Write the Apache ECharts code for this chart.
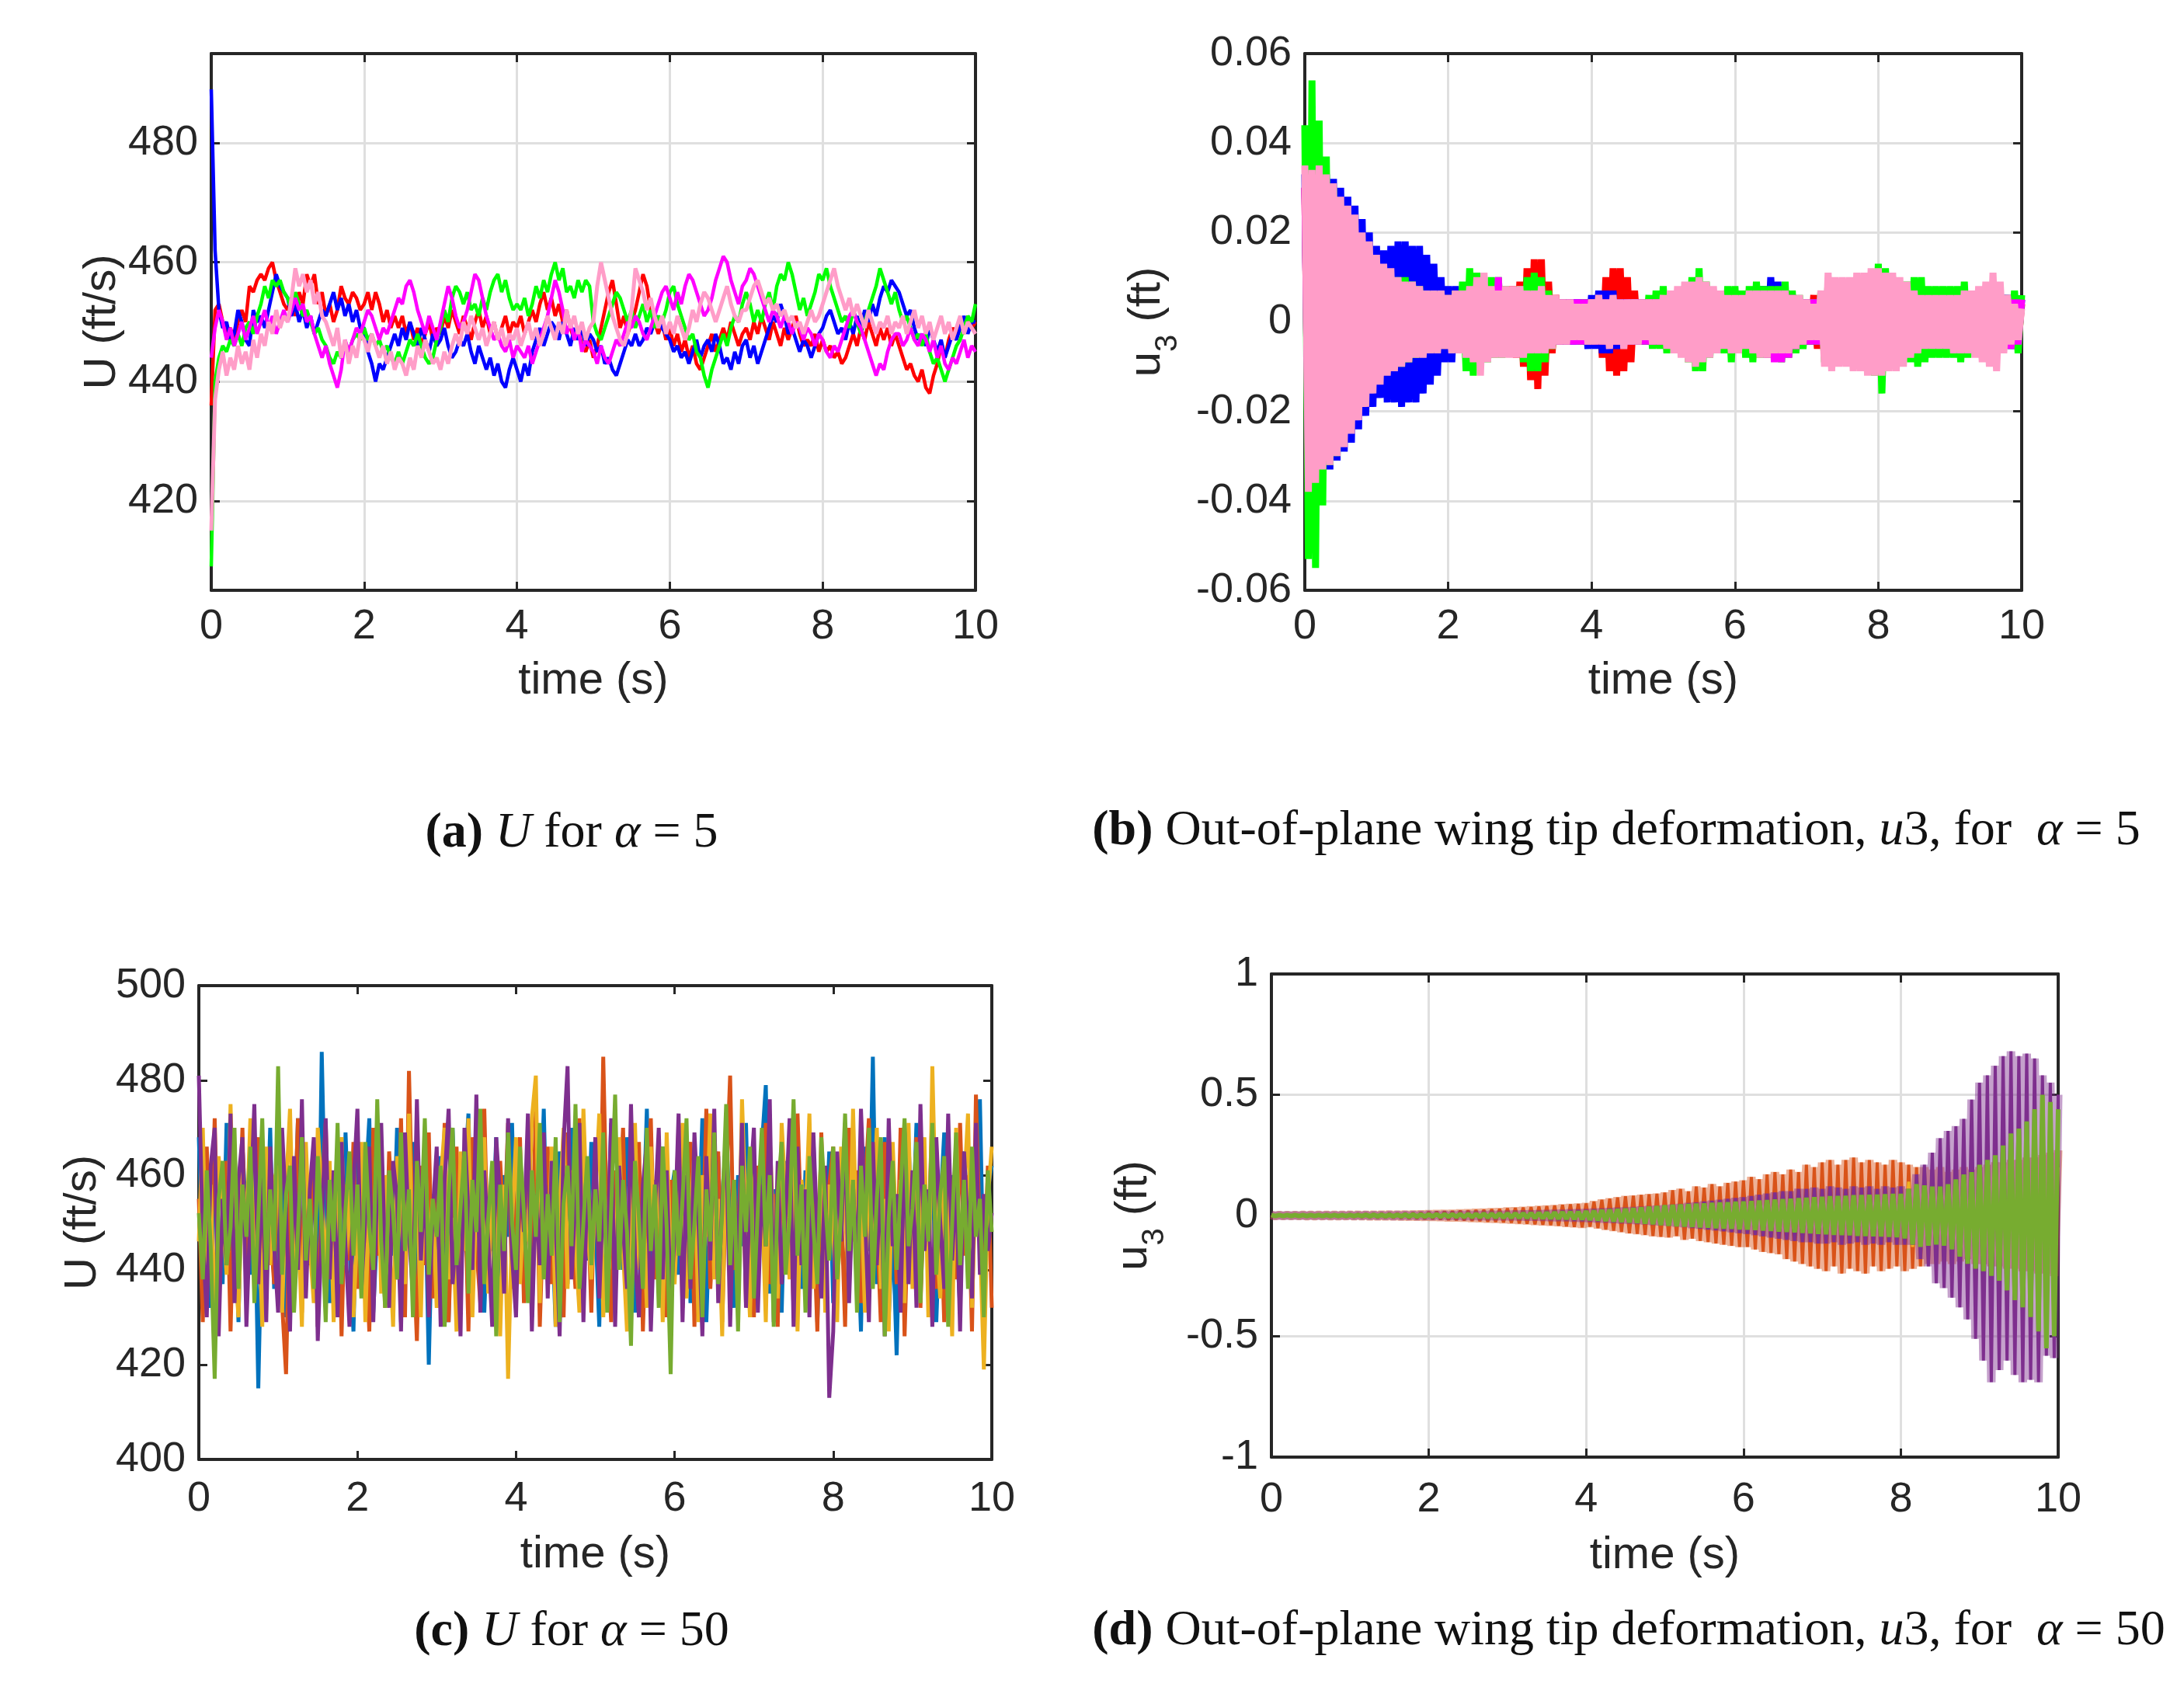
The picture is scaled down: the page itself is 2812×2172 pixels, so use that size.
<!DOCTYPE html>
<html><head><meta charset="utf-8">
<script src="https://cdn.jsdelivr.net/npm/echarts@6/dist/echarts.min.js"></script>
<style>html,body{margin:0;padding:0;background:#fff}#c{width:2812px;height:2172px}</style>
</head><body><div id="c"></div>
<script>
// sample times (s), shared by all four panels
const time = [
0,0.05,0.1,0.15,0.2,0.25,0.3,0.35,0.4,0.45,0.5,0.55,0.6,0.65,0.7,0.75,0.8,0.85,0.9,0.95,
1,1.05,1.1,1.15,1.2,1.25,1.3,1.35,1.4,1.45,1.5,1.55,1.6,1.65,1.7,1.75,1.8,1.85,1.9,1.95,
2,2.05,2.1,2.15,2.2,2.25,2.3,2.35,2.4,2.45,2.5,2.55,2.6,2.65,2.7,2.75,2.8,2.85,2.9,2.95,
3,3.05,3.1,3.15,3.2,3.25,3.3,3.35,3.4,3.45,3.5,3.55,3.6,3.65,3.7,3.75,3.8,3.85,3.9,3.95,
4,4.05,4.1,4.15,4.2,4.25,4.3,4.35,4.4,4.45,4.5,4.55,4.6,4.65,4.7,4.75,4.8,4.85,4.9,4.95,
5,5.05,5.1,5.15,5.2,5.25,5.3,5.35,5.4,5.45,5.5,5.55,5.6,5.65,5.7,5.75,5.8,5.85,5.9,5.95,
6,6.05,6.1,6.15,6.2,6.25,6.3,6.35,6.4,6.45,6.5,6.55,6.6,6.65,6.7,6.75,6.8,6.85,6.9,6.95,
7,7.05,7.1,7.15,7.2,7.25,7.3,7.35,7.4,7.45,7.5,7.55,7.6,7.65,7.7,7.75,7.8,7.85,7.9,7.95,
8,8.05,8.1,8.15,8.2,8.25,8.3,8.35,8.4,8.45,8.5,8.55,8.6,8.65,8.7,8.75,8.8,8.85,8.9,8.95,
9,9.05,9.1,9.15,9.2,9.25,9.3,9.35,9.4,9.45,9.5,9.55,9.6,9.65,9.7,9.75,9.8,9.85,9.9,9.95,
10];

// ---------- (a) U (ft/s), alpha = 5 ----------
const aRed = [
436,452,453,450,448,449,447,450,452,450,456,455,457,458,457,459,460,457,455,453,
452,454,451,455,453,458,456,458,453,455,451,453,450,452,456,454,453,455,454,452,
453,455,452,455,453,450,452,449,451,449,451,448,450,447,449,446,448,450,447,449,
448,451,449,452,450,448,451,449,447,450,452,449,451,448,450,447,449,451,448,450,
449,451,448,450,452,450,453,455,452,454,451,453,450,452,449,447,449,446,445,447,
444,446,449,452,455,457,453,449,451,448,450,452,455,458,456,452,450,448,450,447,
449,446,448,445,447,444,446,443,442,444,446,448,445,447,449,447,450,448,446,448,
449,447,450,448,451,449,447,450,448,446,449,447,449,451,448,446,447,446,448,445,
447,445,446,444,445,443,444,446,448,446,449,447,450,448,446,449,447,449,446,448,
446,444,442,443,441,440,442,439,438,441,443,446,444,447,449,448,450,448,451,449,
450];
const aBlue = [
489,462,452,449,450,447,448,452,450,447,446,452,450,451,449,452,455,458,456,455,
454,451,453,450,452,449,451,448,450,452,451,453,455,452,454,451,453,450,452,449,
449,445,443,440,443,442,444,446,448,446,449,447,450,448,446,449,447,445,448,446,
447,449,446,444,445,447,446,448,445,443,446,444,442,444,441,443,440,439,442,444,
442,440,443,441,445,447,449,446,448,450,449,447,450,448,446,449,447,449,446,448,
447,445,446,443,444,442,441,443,445,447,446,448,446,447,449,448,450,451,449,448,
447,445,446,444,445,443,445,447,444,446,447,445,448,446,443,444,442,445,443,446,
447,444,446,443,445,447,449,451,450,453,451,448,449,447,445,447,446,444,446,448,
449,451,452,450,448,449,447,450,448,451,449,452,450,453,451,454,456,455,457,456,
455,453,451,452,449,447,448,446,449,447,445,447,444,446,448,447,449,451,448,450,
450];
const aGreen = [
409,440,444,446,445,447,446,448,446,449,450,448,451,453,456,454,457,456,457,455,
454,452,455,453,451,452,450,448,449,447,446,444,443,445,444,446,445,447,448,447,
449,447,448,446,447,445,446,444,443,445,443,445,447,446,448,446,444,443,444,447,
449,452,450,454,456,455,453,455,452,453,451,454,452,455,457,458,455,457,454,452,
453,452,454,451,453,456,454,457,455,458,460,457,459,455,456,454,457,455,457,456,
450,448,447,449,451,453,455,454,452,450,452,449,451,453,450,452,449,451,450,452,
455,456,453,451,449,447,448,445,444,441,439,442,444,446,448,446,449,451,450,453,
455,453,450,452,450,453,455,452,456,458,457,460,458,455,452,454,451,453,455,458,
457,459,456,454,452,450,451,449,452,450,448,450,452,454,456,459,457,455,453,455,
452,450,451,449,447,448,446,448,445,443,444,442,440,442,444,446,447,449,451,450,
453];
const aMagenta = [
444,449,452,450,447,449,446,448,450,447,449,451,448,450,452,449,451,448,450,452,
450,452,454,452,453,450,451,448,446,444,446,443,441,439,442,447,445,447,449,448,
450,452,451,449,447,449,448,450,452,454,453,456,457,455,452,450,448,451,449,447,
450,453,456,454,451,449,450,452,455,458,457,454,451,449,447,448,446,445,447,444,
446,445,444,446,443,445,447,449,451,454,457,455,452,448,450,447,449,445,447,446,
445,443,446,444,443,445,447,446,448,450,449,451,450,448,447,449,451,453,455,456,
454,452,455,453,456,458,457,455,453,451,452,454,457,459,461,460,457,455,453,456,
457,459,458,456,454,452,450,452,451,449,451,450,448,450,449,447,449,448,446,448,
447,445,444,446,445,447,449,451,452,450,449,447,445,443,441,443,442,445,447,448,
448,446,447,449,447,446,448,447,445,447,444,446,443,442,444,443,445,447,444,446,
445];
const aPink = [
415,437,442,445,441,444,442,446,443,445,442,447,444,448,446,450,448,452,449,451,
450,454,459,456,458,455,457,453,455,451,450,448,446,449,444,447,443,446,444,448,
447,445,448,446,444,446,443,445,442,444,443,441,444,442,446,444,447,445,443,444,
442,445,443,446,448,446,450,448,451,449,447,449,446,448,450,447,449,446,448,447,
449,446,448,450,447,449,446,448,451,449,447,450,448,452,449,451,448,450,447,449,
450,456,460,457,454,451,449,447,446,448,452,459,457,455,452,454,451,449,451,448,
450,448,451,449,447,449,452,450,453,455,454,452,450,452,454,456,453,451,450,452,
452,454,456,457,455,453,454,452,453,451,452,450,451,449,450,448,450,452,450,451,
453,455,457,459,456,454,452,454,451,453,451,449,452,450,448,450,449,451,448,450,
449,451,448,450,452,449,451,448,450,447,449,451,448,450,447,449,451,448,450,449,
448];

// ---------- (b) u3, alpha = 5 (values in 0.001 ft) ----------
const bRed = [
30,-32,30,-30,29,-28,28,-27,26,-25,24,-23,22,-21,20,-19,18,-17,16,-15,
13,-12,12,-11,10,-10,9,-9,8,-8,8,-7,7,-7,6,-6,6,-6,6,-6,
6,-6,6,-6,6,-6,6,-6,6,-6,6,-6,6,-6,6,-6,7,-7,8,-8,
9,-10,12,-13,14,-15,14,-12,9,-7,6,-5,5,-5,5,-4,4,-4,5,-5,
5,-5,6,-8,10,-11,12,-12,12,-11,10,-9,7,-5,5,-5,5,-5,5,-5,
5,-5,5,-5,5,-5,5,-5,5,-5,5,-5,5,-5,5,-5,5,-5,5,-5,
5,-5,5,-5,5,-5,5,-5,5,-5,5,-5,5,-5,5,-5,5,-5,5,-5,
5,-5,6,-6,6,-6,7,-7,7,-7,7,-7,7,-7,7,-7,7,-7,7,-7,
7,-7,7,-7,7,-7,6,-6,6,-6,5,-5,5,-5,5,-5,5,-5,5,-5,
5,-5,6,-6,6,-6,7,-6,6,-6,5,-5,5,-5,5,-5,5,-5,5,-5,
4];
const bBlue = [
33,-35,34,-35,35,-34,33,-33,32,-31,30,-29,28,-27,26,-24,23,-21,20,-19,
17,-17,16,-18,17,-18,18,-19,18,-18,17,-18,17,-16,15,-14,13,-12,10,-9,
8,-9,8,-7,6,-6,6,-5,5,-5,6,-6,5,-5,5,-5,5,-5,5,-5,
5,-5,5,-5,5,-5,5,-5,5,-5,5,-5,5,-5,5,-5,5,-5,5,-6,
6,-6,7,-7,7,-7,7,-6,5,-5,5,-5,5,-5,5,-5,5,-5,5,-5,
5,-5,5,-5,5,-5,5,-5,5,-5,5,-5,5,-5,5,-5,5,-5,5,-5,
5,-5,5,-5,5,-5,6,-7,8,-7,10,-6,9,-6,5,-5,5,-5,5,-5,
5,-5,5,-5,5,-5,5,-5,5,-5,5,-5,5,-5,5,-5,5,-5,5,-5,
5,-5,5,-5,5,-5,5,-5,5,-5,5,-5,5,-5,5,-5,5,-5,5,-5,
5,-5,5,-5,5,-5,5,-5,5,-5,5,-5,5,-5,5,-5,6,-6,5,-5,
5];
const bGreen = [
44,-53,54,-55,45,-41,37,-32,30,-30,26,-25,22,-20,18,-16,15,-14,13,-12,
11,-10,10,-10,10,-10,10,-10,10,-9,9,-8,8,-7,7,-7,6,-6,6,-6,
6,-6,7,-7,9,-11,12,-12,11,-9,8,-9,10,-8,10,-8,8,-7,7,-7,
8,-9,10,-11,11,-11,10,-9,7,-6,5,-5,5,-5,4,-4,4,-5,5,-5,
5,-5,5,-5,5,-5,5,-5,5,-5,5,-5,5,-5,5,-5,6,-6,7,-6,
8,-7,6,-6,7,-7,8,-9,10,-11,12,-11,9,-8,7,-7,7,-7,8,-9,
8,-7,7,-8,8,-9,9,-8,8,-8,8,-8,8,-9,9,-8,7,-7,6,-6,
5,-5,5,-5,7,-9,9,-9,9,-9,9,-9,9,-9,9,-9,9,-10,11,-12,
13,-16,12,-10,10,-9,9,-9,9,-9,10,-10,10,-9,8,-8,8,-8,8,-8,
8,-8,8,-9,9,-8,7,-7,7,-7,7,-7,7,-6,6,-6,6,-6,7,-7,
6];
const bMagenta = [
30,-31,29,-29,28,-27,27,-26,25,-24,23,-22,21,-20,19,-18,17,-16,15,-14,
13,-12,11,-11,10,-9,9,-8,8,-8,7,-7,7,-7,6,-6,6,-6,6,-6,
6,-6,6,-6,6,-6,6,-6,6,-6,6,-6,6,-6,10,-7,7,-6,6,-6,
6,-6,6,-6,5,-5,5,-5,5,-5,5,-5,5,-5,5,-5,5,-5,5,-5,
5,-5,5,-5,5,-5,5,-5,5,-5,5,-5,5,-5,5,-5,5,-5,5,-5,
5,-5,5,-5,5,-5,5,-5,5,-5,5,-5,5,-5,5,-5,5,-5,5,-5,
5,-5,5,-5,6,-6,6,-7,7,-8,7,-9,7,-9,7,-8,6,-6,5,-5,
5,-5,5,-5,6,-6,6,-6,6,-6,6,-6,6,-6,6,-6,6,-6,6,-6,
6,-6,6,-6,6,-6,6,-6,5,-5,5,-5,5,-5,5,-5,5,-5,5,-5,
5,-5,5,-5,5,-5,5,-5,5,-5,5,-5,5,-6,6,-6,6,-6,5,-5,
5];
const bPink = [
35,-38,34,-36,35,-33,33,-32,31,-30,28,-28,26,-25,24,-22,20,-19,18,-16,
15,-14,13,-12,12,-11,10,-10,9,-9,9,-8,8,-8,7,-7,7,-7,7,-6,
6,-7,7,-7,7,-8,8,-9,10,-12,11,-9,8,-8,7,-8,8,-8,8,-8,
8,-8,7,-7,7,-7,8,-7,6,-6,6,-5,5,-5,5,-4,4,-4,4,-5,
5,-5,6,-5,5,-6,6,-5,5,-6,5,-5,5,-5,5,-4,5,-5,5,-5,
6,-6,7,-7,8,-8,9,-9,9,-10,10,-9,9,-8,8,-7,7,-6,6,-7,
6,-7,6,-6,7,-7,7,-8,7,-8,7,-7,7,-7,7,-7,6,-6,6,-5,
5,-4,4,-4,7,-10,11,-11,10,-10,10,-10,10,-11,11,-11,11,-12,12,-12,
12,-12,11,-11,11,-11,10,-10,9,-8,7,-7,6,-6,6,-6,6,-6,6,-6,
6,-7,6,-7,7,-7,7,-8,8,-9,9,-10,11,-11,9,-7,6,-5,4,-4,
3];

// ---------- (c) U (ft/s), alpha = 50 ----------
const cBlue = [
468,441,455,432,463,449,437,471,444,458,429,466,450,439,461,415,454,443,470,436,
452,467,430,458,444,472,435,456,441,465,428,486,447,433,460,451,438,469,445,427,
463,440,457,472,431,449,466,437,455,443,470,429,458,446,467,434,452,461,420,456,
441,464,452,429,470,446,435,459,473,438,450,466,431,455,444,468,433,460,447,471,
436,457,443,469,430,461,448,474,439,452,428,465,456,437,470,445,433,459,442,467,
450,428,463,445,471,434,457,440,468,452,431,462,447,474,436,459,443,466,430,455,
461,439,452,467,433,458,446,472,429,455,441,464,437,469,450,432,460,445,471,438,
454,442,466,479,435,457,448,431,463,440,470,452,436,461,445,468,429,456,443,465,
433,459,447,470,438,462,451,427,466,444,485,437,455,468,430,449,422,458,441,467,
446,471,435,458,442,466,429,453,469,437,460,448,432,465,450,440,463,476,434,457,
462];
const cOrange = [
455,429,466,442,472,437,451,463,427,459,446,470,434,457,441,468,430,461,449,437,
469,433,418,457,446,472,431,460,444,466,428,455,471,439,450,463,426,458,442,467,
436,461,448,427,470,443,457,432,465,449,438,472,430,482,447,425,462,441,469,434,
458,444,471,429,454,466,436,460,427,468,445,433,474,440,456,429,463,447,471,436,
451,468,433,459,442,474,428,455,466,437,461,445,430,469,449,436,472,440,457,431,
464,438,485,446,429,461,452,470,433,458,441,467,427,455,472,438,450,463,430,459,
445,470,432,456,467,428,461,443,474,436,452,465,429,458,481,440,447,468,433,455,
430,462,449,471,437,456,428,466,444,459,432,473,447,438,464,452,427,469,441,458,
466,435,454,428,470,446,461,433,457,472,440,451,429,467,444,458,437,470,426,455,
441,468,432,459,447,474,436,455,429,466,450,438,471,443,460,427,477,446,435,462,
432];
const cYellow = [
446,470,435,458,427,464,452,439,475,443,430,461,448,472,436,455,428,466,441,459,
462,431,457,474,440,451,428,467,445,433,470,456,438,463,429,452,468,441,457,430,
449,467,429,456,442,471,435,460,447,428,464,452,437,473,441,458,430,466,444,455,
432,459,470,438,451,427,465,444,472,430,456,441,468,435,462,447,426,458,417,450,
468,437,455,446,472,481,433,459,442,466,428,453,470,436,461,445,431,474,449,438,
456,473,430,449,462,436,468,444,427,458,471,440,455,432,466,447,460,429,469,443,
437,458,471,434,452,465,429,460,447,473,438,455,426,468,442,459,433,476,450,430,
463,441,456,429,468,447,434,471,455,438,462,427,459,450,473,436,446,465,431,458,
449,429,466,452,437,474,443,458,431,462,448,470,436,455,427,467,445,459,433,471,
436,457,445,468,430,483,448,434,462,451,426,470,441,457,473,432,460,447,419,455,
466];
const cPurple = [
481,447,430,462,470,426,455,441,473,433,459,468,428,452,475,437,463,429,466,445,
431,470,452,427,464,440,476,434,457,468,425,449,472,438,461,430,467,445,428,458,
474,436,451,466,429,458,471,441,432,463,455,427,469,447,435,476,442,460,430,452,
466,428,459,474,437,449,426,470,452,440,477,431,461,446,428,468,455,435,472,443,
430,462,448,473,427,456,441,469,434,463,450,426,467,483,438,455,471,429,460,445,
468,434,457,441,472,428,462,449,436,475,443,430,458,467,427,452,470,438,461,433,
447,473,429,460,436,469,451,426,464,442,474,433,455,468,428,459,440,471,432,457,
470,431,458,445,476,429,463,437,452,472,428,466,441,457,430,469,447,434,462,413,
427,465,446,471,433,458,439,474,452,429,467,441,460,426,472,445,456,431,469,437,
461,432,475,444,457,428,468,450,436,473,442,459,427,465,448,434,471,439,456,444,
452];
const cGreen = [
452,438,461,445,417,455,463,441,449,470,436,458,447,466,433,451,472,440,457,444,
483,439,456,462,431,448,468,442,455,436,464,450,429,459,446,471,437,453,465,443,
458,434,467,449,440,476,446,432,461,452,438,469,444,457,430,463,448,472,439,455,
447,462,428,456,470,441,453,465,435,459,448,474,437,451,463,426,458,444,469,450,
440,466,452,433,461,447,471,438,456,443,468,429,454,462,445,475,436,450,464,441,
457,446,469,431,453,477,440,459,448,424,463,451,436,470,444,458,432,466,449,418,
461,443,455,472,438,450,464,430,457,446,469,437,452,475,441,459,427,462,448,466,
434,453,470,445,460,428,456,467,439,451,476,443,458,431,464,449,437,468,454,442,
466,438,452,473,444,459,431,462,447,470,436,455,468,426,451,463,440,457,472,445,
453,467,433,458,446,471,439,456,464,428,450,469,441,459,436,466,447,455,430,461,
448];

// ---------- (d) u3, alpha = 50 (values in 0.01 ft) ----------
const dOrange = [
0.3,-0.3,0.3,-0.3,0.3,-0.3,0.3,-0.3,0.4,-0.4,0.4,-0.4,0.4,-0.4,0.5,-0.5,0.5,-0.5,0.5,-0.5,
0.6,-0.6,0.7,-0.7,0.7,-0.8,0.8,-0.9,0.9,-0.9,1,-1,1,-1.1,1.1,-1.2,1.2,-1.3,1.3,-1.4,
1.5,-1.5,1.6,-1.6,1.7,-1.8,1.8,-1.9,2,-2,2.1,-2.2,2.3,-2.3,2.4,-2.5,2.6,-2.6,2.7,-2.8,
3,-3,3.1,-3.2,3.3,-3.4,3.5,-3.6,3.7,-3.8,3.9,-4,4.1,-4.2,4.4,-4.5,4.6,-4.7,4.8,-4.9,
5,-4.6,5.8,-5.2,6.5,-5.8,7,-6.3,7.5,-6.8,8,-7.3,8.2,-7.6,8.5,-8,8.8,-8.5,9,-8.8,
9.5,-9,10.5,-8.5,11,-10,10,-9.5,12,-10.5,11.5,-11,13,-11.5,12,-12,13.5,-12.5,14,-13,
14.5,-13,16,-14,15,-15,17,-15.5,18,-16,17,-18,19,-19,18,-20,21,-21,20,-22,
22,-23,23,-21,21,-24,23,-22,24,-23,22,-24,23,-21,22,-23,21,-22,23,-21,
22,-23,21,-22,20,-21,20,-20,19,-20,20,-19,18,-20,19,-19,20,-18,19,-20,
20,-20,21,-21,22,-21,22,-22,23,-22,23,-23,24,-23,24,-24,25,-24,26,-25,
27];
const dYellow = [
0.2,-0.2,0.2,-0.2,0.2,-0.2,0.2,-0.2,0.2,-0.2,0.2,-0.2,0.2,-0.2,0.2,-0.2,0.2,-0.2,0.2,-0.2,
0.3,-0.3,0.3,-0.3,0.3,-0.3,0.3,-0.3,0.3,-0.3,0.3,-0.3,0.3,-0.3,0.3,-0.3,0.3,-0.3,0.3,-0.3,
0.5,-0.5,0.5,-0.5,0.5,-0.5,0.5,-0.5,0.5,-0.5,0.5,-0.5,0.5,-0.5,0.5,-0.5,0.5,-0.5,0.5,-0.5,
1,-1,1,-1,1,-1,1,-1,1,-1,1,-1,1,-1,1,-1,1,-1,1,-1,
2,-2,2.2,-2.2,2.4,-2.4,2.6,-2.6,2.8,-2.8,3,-3,3.2,-3.2,3.4,-3.4,3.6,-3.6,3.8,-3.8,
4,-4,4.2,-4.2,4.4,-4.4,4.6,-4.6,4.8,-4.8,5,-5,5.2,-5.2,5.4,-5.4,5.6,-5.6,5.8,-5.8,
6,-6,6.2,-6.2,6.4,-6.4,6.6,-6.6,6.8,-6.8,7,-7,7.2,-7.2,7.4,-7.4,7.6,-7.6,7.8,-7.8,
8,-8,8,-8,8.2,-8.2,8.2,-8.2,8.4,-8.4,8.4,-8.4,8.6,-8.6,8.6,-8.6,8.8,-8.8,9,-9,
9.5,-10,14,-13,11.5,-11,10,-10,10,-10,10,-10,10,-10,10.5,-10.5,11,-11,11,-11,
12,-12,13,-13,14,-14,15,-15,16,-16,17,-17,18,-18,19,-19,20,-20,20,-20,
20];
const dPurple = [
0.1,-0.1,0.1,-0.1,0.1,-0.1,0.1,-0.1,0.1,-0.1,0.1,-0.1,0.1,-0.1,0.1,-0.1,0.1,-0.1,0.1,-0.1,
0.2,-0.2,0.2,-0.2,0.3,-0.3,0.3,-0.3,0.3,-0.3,0.4,-0.4,0.4,-0.4,0.4,-0.4,0.5,-0.5,0.5,-0.5,
0.6,-0.6,0.6,-0.6,0.7,-0.7,0.7,-0.7,0.8,-0.8,0.8,-0.8,0.9,-0.9,0.9,-0.9,1,-1,1,-1,
1.1,-1.1,1.2,-1.2,1.3,-1.3,1.4,-1.4,1.5,-1.5,1.6,-1.6,1.7,-1.7,1.8,-1.8,2,-2,2.1,-2.1,
2.2,-2.2,2.4,-2.4,2.5,-2.5,2.7,-2.7,2.9,-2.9,3,-3,3.2,-3.2,3.4,-3.4,3.6,-3.6,3.8,-3.8,
4,-4,4.3,-4.3,4.6,-4.6,5,-5,5.3,-5.3,5.7,-5.7,6,-6,6.4,-6.4,6.8,-6.8,7.2,-7.2,
7.5,-7.5,8,-8,8.5,-8.5,9,-9,9.5,-9.5,10,-10,10,-10.5,11,-11,11,-11,11.5,-11.5,
11,-11.5,12,-11,11.5,-12,11,-11.5,12,-11,11.5,-12,12,-11.5,11,-12,12,-11,11.5,-12,
12,-12,11,-12,17,-18,21,-21,26,-28,32,-30,35,-34,37,-38,40,-43,48,-51,
55,-60,58,-69,62,-64,66,-60,68,-66,66,-69,67,-68,65,-69,58,-58,55,-59,
50];
const dGreen = [
0.2,-0.2,0.2,-0.2,0.2,-0.2,0.2,-0.2,0.2,-0.2,0.2,-0.2,0.2,-0.2,0.2,-0.2,0.2,-0.2,0.2,-0.2,
0.2,-0.2,0.2,-0.2,0.3,-0.3,0.3,-0.3,0.3,-0.3,0.3,-0.3,0.3,-0.3,0.4,-0.4,0.4,-0.4,0.4,-0.4,
0.4,-0.4,0.5,-0.5,0.5,-0.5,0.5,-0.5,0.6,-0.6,0.6,-0.6,0.6,-0.6,0.7,-0.7,0.7,-0.7,0.8,-0.8,
0.8,-0.8,0.9,-0.9,0.9,-0.9,1,-1,1.1,-1.1,1.2,-1.2,1.3,-1.3,1.4,-1.4,1.5,-1.5,1.6,-1.6,
1.8,-1.8,2,-2,2.2,-2.2,2.4,-2.4,2.6,-2.6,2.8,-2.8,3,-3,3.3,-3.3,3.6,-3.6,3.9,-3.9,
4.2,-4.2,4.4,-4.4,4.6,-4.6,4.7,-4.7,4.9,-4.9,5,-5,5.2,-5.2,5.4,-5.4,5.5,-5.5,5.7,-5.7,
5.8,-5.8,6,-6,6.2,-6.2,6.4,-6.4,6.6,-6.6,6.8,-6.8,7,-7,7.2,-7.2,7.4,-7.4,7.6,-7.6,
7.8,-7.8,8,-8,8.1,-8.1,8.2,-8.2,8.4,-8.4,8.5,-8.5,8.6,-8.6,8.7,-8.7,8.8,-8.8,9,-9,
9,-9.5,11,-12,13,-13,12.5,-12.5,12,-12,12,-12.5,13,-14,15,-17,17,-20,18,-22,
21,-23,23,-25,25,-27,29,-31,34,-35,36,-38,39,-42,44,-48,50,-55,47,-50,
44];

// tick values / ranges
const xTicks = {min:0, max:10, interval:2};
const yRangeA = {min:405, max:495, splitNumber:5};
const yRangeB = {min:-0.06, max:0.06, interval:0.02};
const yRangeC = {min:400, max:500, interval:20};
const yRangeD = {min:-1, max:1, interval:0.5};

const SANS = 'Liberation Sans, Arial, Helvetica, sans-serif';
const SERIF = 'Liberation Serif, Times New Roman, serif';
const AX = '#262626', GRIDC = '#dfdfdf';
const TICK_FS = 54, NAME_FS = 58;

const grids = [
  {left:272, top:69, width:984, height:691},
  {left:1680, top:69, width:923, height:691},
  {left:256, top:1269, width:1021, height:610},
  {left:1637, top:1254, width:1013, height:622}
];

function baseAxis(gi, pos, range) {
  return Object.assign({
    gridIndex: gi, type: 'value', position: pos,
    axisLine: {show: true, onZero: false, lineStyle: {color: AX, width: 4}},
    axisTick: {show: true, inside: true, length: 11, lineStyle: {color: AX, width: 3}},
    axisLabel: {show: false},
    splitLine: {show: false}
  }, range);
}
const xAxes = [], yAxes = [];
const u3Rich = {
  m: {fontFamily: SANS, fontSize: NAME_FS, color: AX, verticalAlign: 'top', lineHeight: 64},
  s: {fontFamily: SANS, fontSize: 40, color: AX, verticalAlign: 'top', lineHeight: 40, padding: [36, 0, 0, 0]}
};
function addPanel(gi, yRange, showGrid, xMargin, xNameGap, yName, yNameGap, rich) {
  const x = baseAxis(gi, 'bottom', xTicks);
  x.axisLabel = {show: true, fontFamily: SANS, fontSize: TICK_FS, color: AX, margin: xMargin};
  x.splitLine = {show: showGrid, lineStyle: {color: GRIDC, width: 3}};
  x.name = 'time (s)'; x.nameLocation = 'middle'; x.nameGap = xNameGap;
  x.nameTextStyle = {fontFamily: SANS, fontSize: NAME_FS, color: AX};
  xAxes.push(x);
  xAxes.push(baseAxis(gi, 'top', xTicks));
  const y = baseAxis(gi, 'left', yRange);
  const ends = !yRange.splitNumber;
  y.axisLabel = {show: true, fontFamily: SANS, fontSize: TICK_FS, color: AX, margin: 17,
                 showMinLabel: ends, showMaxLabel: ends};
  y.splitLine = {show: showGrid, lineStyle: {color: GRIDC, width: 3}};
  y.name = yName; y.nameLocation = 'middle'; y.nameGap = yNameGap;
  y.nameTextStyle = {fontFamily: SANS, fontSize: NAME_FS, color: AX};
  if (rich) y.nameTextStyle.rich = rich;
  yAxes.push(y);
  yAxes.push(baseAxis(gi, 'right', yRange));
}
addPanel(0, yRangeA, true, 20, 88, 'U (ft/s)', 110, null);
addPanel(1, yRangeB, true, 20, 88, '{m|u}{s|3}{m| (ft)}', 168, u3Rich);
addPanel(2, yRangeC, false, 24, 94, 'U (ft/s)', 120, null);
addPanel(3, yRangeD, true, 28, 98, '{m|u}{s|3}{m| (ft)}', 142, u3Rich);

function line(gi, vals, scale, color, width, opacity) {
  return {
    type: 'line', xAxisIndex: 2 * gi, yAxisIndex: 2 * gi,
    data: time.map((t, i) => [t, vals[i] * scale]),
    showSymbol: false, symbol: 'none', silent: true, animation: false,
    lineStyle: {color: color, width: width, join: 'bevel', cap: 'butt', opacity: opacity == null ? 1 : opacity},
    itemStyle: {color: color}
  };
}
const C = {blue:'#0072BD', orange:'#D95319', yellow:'#EDB120', purple:'#7E2F8E', green:'#77AC30'};
const series = [
  line(0, aRed, 1, '#ff0000', 4.5), line(0, aBlue, 1, '#0000ff', 4.5), line(0, aGreen, 1, '#00ff00', 4.5),
  line(0, aMagenta, 1, '#ff00ff', 4.5), line(0, aPink, 1, '#ff9dc8', 5),
  line(1, bRed, 0.001, '#ff0000', 9), line(1, bBlue, 0.001, '#0000ff', 9), line(1, bGreen, 0.001, '#00ff00', 9),
  line(1, bMagenta, 0.001, '#ff00ff', 9), line(1, bPink, 0.001, '#ff9dc8', 9),
  line(2, cBlue, 1, C.blue, 5), line(2, cOrange, 1, C.orange, 5), line(2, cYellow, 1, C.yellow, 5),
  line(2, cPurple, 1, C.purple, 5), line(2, cGreen, 1, C.green, 5),
  line(3, dOrange, 0.01, C.orange, 11, 0.45), line(3, dOrange, 0.01, C.orange, 4),
  line(3, dYellow, 0.01, C.yellow, 4),
  line(3, dPurple, 0.01, C.purple, 11, 0.45), line(3, dPurple, 0.01, C.purple, 4),
  line(3, dGreen, 0.01, C.green, 6)
];

function caption(txt, x, y) {
  const f = {fontFamily: SERIF, fontSize: 64, fill: '#111'};
  return {type: 'text', x: x, y: y, silent: true, z: 10,
    style: Object.assign({text: txt, align: 'center', verticalAlign: 'middle',
      rich: {b: Object.assign({fontWeight: 'bold'}, f), i: Object.assign({fontStyle: 'italic'}, f), n: f}}, f)};
}

const chart = echarts.init(document.getElementById('c'), null, {renderer: 'canvas'});
chart.setOption({
  backgroundColor: '#ffffff',
  animation: false,
  grid: grids,
  xAxis: xAxes,
  yAxis: yAxes,
  series: series,
  graphic: [
    caption('{b|(a)} {i|U} for {i|α} = 5', 736, 1073),
    caption('{b|(b)} Out-of-plane wing tip deformation, {i|u}3, for  {i|α} = 5', 2081, 1070),
    caption('{b|(c)} {i|U} for {i|α} = 50', 736, 2101),
    caption('{b|(d)} Out-of-plane wing tip deformation, {i|u}3, for  {i|α} = 50', 2097, 2100)
  ]
});
</script>
</body></html>
